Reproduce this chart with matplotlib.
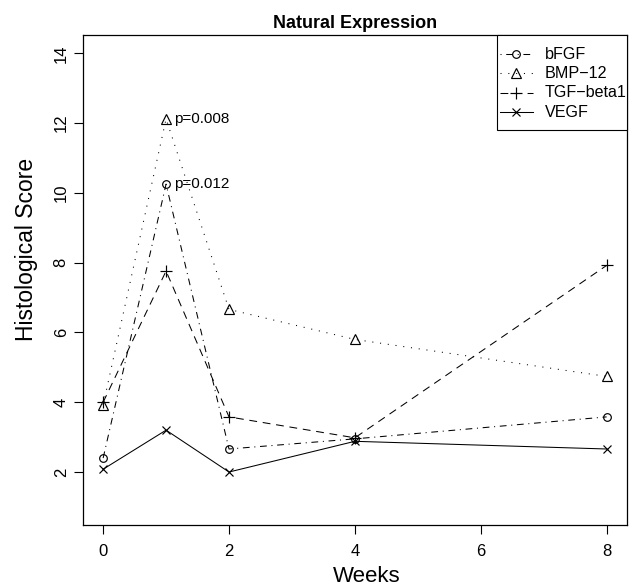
import matplotlib
matplotlib.use("Agg")
import matplotlib.pyplot as plt
from matplotlib.patches import Rectangle

plt.rcParams['font.family'] = ['Liberation Sans', 'DejaVu Sans']

weeks = [0, 1, 2, 4, 8]
bfgf = [2.4, 10.25, 2.66, 2.95, 3.58]
bmp12 = [3.92, 12.12, 6.66, 5.8, 4.74]
tgf = [4.0, 7.76, 3.58, 2.98, 7.92]
vegf = [2.08, 3.2, 2.0, 2.88, 2.66]
series_names = ["bFGF", "BMP\u221212", "TGF\u2212beta1", "VEGF"]
annotations = [(1, 12.12, "p=0.008"), (1, 10.25, "p=0.012")]
xticks = [0, 2, 4, 6, 8]
yticks = [2, 4, 6, 8, 10, 12, 14]

fig = plt.figure(figsize=(6.35, 5.86), dpi=100)
ax = fig.add_axes([0.1307, 0.104, 0.8563, 0.836])

lw = 0.75
mew = 0.85
styles = [
    dict(linestyle=(0, (6.5, 4.5, 1, 4.5)), marker='o', markersize=5.5, markerfacecolor='none'),
    dict(linestyle=(0, (1, 6.5)), marker='^', markersize=6.5, markerfacecolor='none'),
    dict(linestyle=(0, (7.5, 5.5)), marker='+', markersize=8),
    dict(linestyle='-', marker='x', markersize=6),
]
legend_dash_offset = [11, 0, 0, 0]
series = [bfgf, bmp12, tgf, vegf]

for vals, name, st in zip(series, series_names, styles):
    ax.plot(weeks, vals, color='black', lw=lw, markeredgewidth=mew, label=name, **st)

for x, y, t in annotations:
    ax.text(x + 0.13, y, t, fontsize=11, va='center', ha='left')

ax.set_xlim(-0.32, 8.32)
ax.set_ylim(0.48, 14.52)
ax.set_xticks(xticks)
ax.set_yticks(yticks)
ax.tick_params(direction='out', length=6.3, width=0.8, labelsize=12)
ax.tick_params(axis='x', pad=7)
ax.tick_params(axis='y', pad=4)
for lab in ax.get_yticklabels():
    lab.set_rotation(90)
    lab.set_va('center')
for s in ax.spines.values():
    s.set_linewidth(0.9)

ax.set_title("Natural Expression", fontsize=13, fontweight='bold', pad=5)
ax.set_xlabel("Weeks", fontsize=16)
ax.set_ylabel("Histological Score", fontsize=16.5)
ax.xaxis.set_label_coords(0.522, -0.1163)
ax.xaxis.label.set_verticalalignment('baseline')
ax.yaxis.set_label_coords(-0.083, 0.563)

# R-style legend box in the top-right corner
box_x0, box_y0 = 0.761, 0.806
ax.add_patch(Rectangle((box_x0, box_y0), 1.0 - box_x0, 1.0 - box_y0, transform=ax.transAxes,
                       facecolor='white', edgecolor='black', lw=0.8, zorder=5, clip_on=False))
row_y = [0.961, 0.922, 0.882, 0.843]
h_x0, h_x1, h_mid, t_x = 0.7665, 0.827, 0.797, 0.849
for ry, name, st, off in zip(row_y, series_names, styles, legend_dash_offset):
    ls = st['linestyle']
    if isinstance(ls, tuple):
        ls = (off, ls[1])
    ax.plot([h_x0, h_x1], [ry, ry], transform=ax.transAxes, color='black', lw=lw,
            linestyle=ls, zorder=6, clip_on=False)
    ax.plot([h_mid], [ry], transform=ax.transAxes, color='black', linestyle='none',
            marker=st['marker'], markersize=st['markersize'],
            markerfacecolor=st.get('markerfacecolor', 'black'), markeredgewidth=mew,
            zorder=7, clip_on=False)
    ax.text(t_x, ry, name, transform=ax.transAxes, fontsize=11.6, va='center', ha='left',
            zorder=7)

fig.savefig("out.png", dpi=100)
